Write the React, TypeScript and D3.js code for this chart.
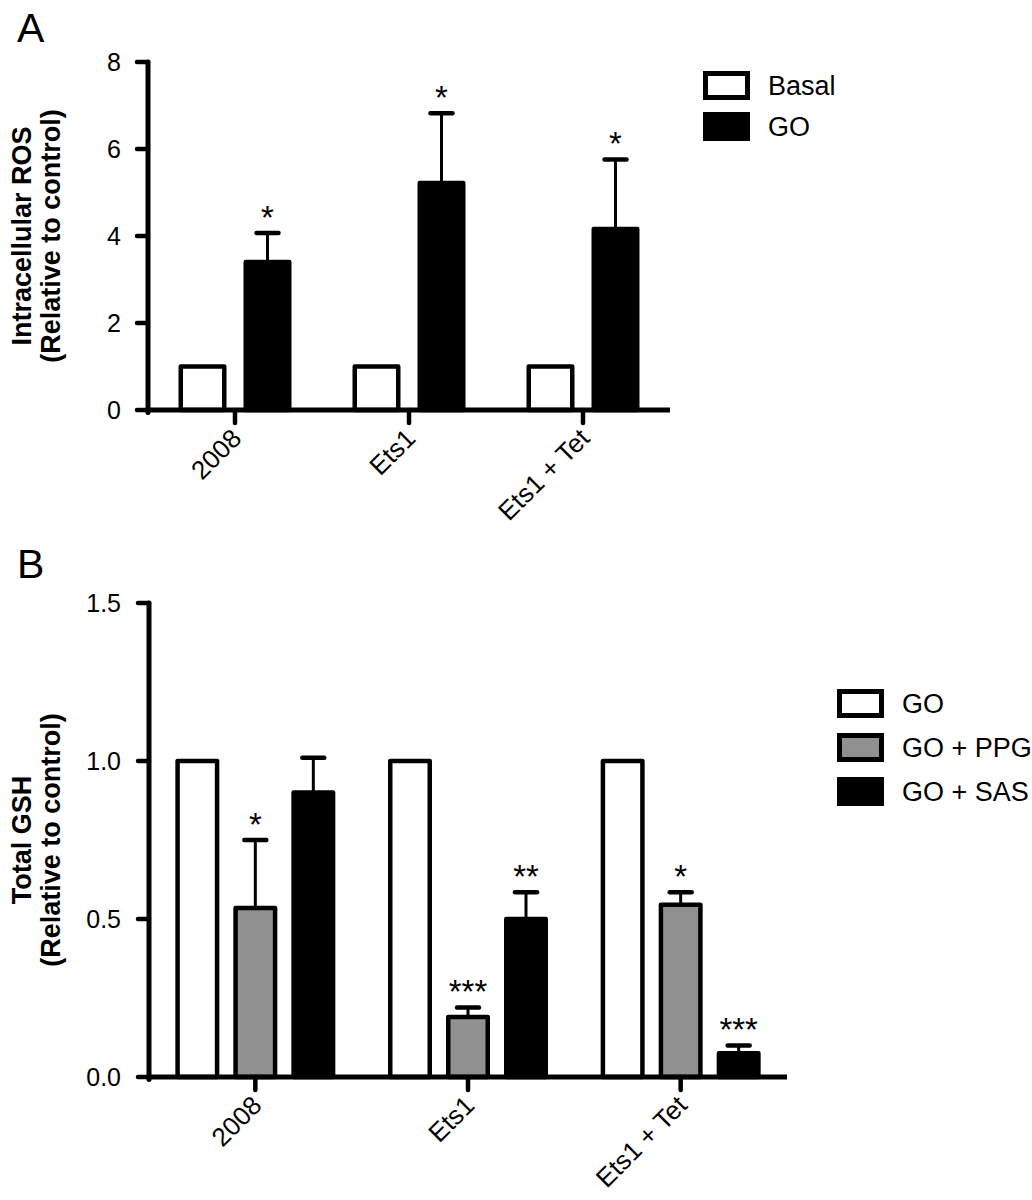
import React from "react";
import * as d3 from "d3";

// ---------- Data ----------
const categories = ["2008", "Ets1", "Ets1 + Tet"];

// Panel A
const seriesA = ["Basal", "GO"];
const basalA = [1, 1, 1];
const goA = [3.4, 5.22, 4.16];
const goErrA = [0.67, 1.6, 1.6];
const starsA = ["*", "*", "*"];
const yTicksA = [0, 2, 4, 6, 8];

// Panel B
const seriesB = ["GO", "GO + PPG", "GO + SAS"];
const goB = [1, 1, 1];
const ppgB = [0.535, 0.19, 0.545];
const ppgErrB = [0.215, 0.03, 0.04];
const ppgStarsB = ["*", "***", "*"];
const sasB = [0.9, 0.5, 0.075];
const sasErrB = [0.11, 0.085, 0.025];
const sasStarsB = ["", "**", "***"];
const yTicksB = [0, 0.5, 1.0, 1.5];

const FONT = "'Liberation Sans', Arial, Helvetica, sans-serif";
const GRAY = "#909090";

type Bar = { cat: string; series: string; value: number; err?: number; star?: string; fill: string };

function Panel(props: {
  label: string;
  labelY: number;
  xRange: [number, number];
  yRange: [number, number];
  yDomain: [number, number];
  yTicks: number[];
  tickFmt: (v: number) => string;
  series: string[];
  innerHalf: number;
  barW: number;
  bars: Bar[];
  title: string[];
  titleCenter: number;
  legend: { name: string; fill: string }[];
  legendX: number;
  legendY: number;
  legendStep: number;
}) {
  const x = d3.scaleBand<string>().domain(categories).range(props.xRange).padding(0);
  const inner = d3.scalePoint<string>().domain(props.series).range([-props.innerHalf, props.innerHalf]);
  const y = d3.scaleLinear().domain(props.yDomain).range(props.yRange);
  const y0 = y(0);
  const sw = 4.5;
  const axisX = props.xRange[0];
  const cx = (c: string) => (x(c) as number) + x.bandwidth() / 2;

  return (
    <g>
      <text x={17} y={props.labelY} fontSize={41} fontFamily={FONT}>{props.label}</text>
      {/* axis title */}
      <g transform={`translate(0, ${props.titleCenter}) rotate(-90)`}>
        {props.title.map((t, i) => (
          <text key={i} x={0} y={31 + i * 29} textAnchor="middle" fontSize={27} fontWeight="bold" fontFamily={FONT}>{t}</text>
        ))}
      </g>
      {/* bars */}
      {props.bars.map((b, i) => {
        const bx = cx(b.cat) + (inner(b.series) as number);
        const top = y(b.value);
        const errTop = b.err != null ? y(b.value + b.err) : top;
        return (
          <g key={i}>
            {b.err != null && (
              <g stroke="#000">
                <line x1={bx} x2={bx} y1={top} y2={errTop} strokeWidth={3} />
                <line x1={bx - 11} x2={bx + 11} y1={errTop} y2={errTop} strokeWidth={4.5} strokeLinecap="round" />
              </g>
            )}
            <rect x={bx - props.barW / 2} y={top} width={props.barW} height={y0 - top}
              fill={b.fill} stroke="#000" strokeWidth={sw} strokeLinejoin="round" />
            {b.star && (
              <text x={bx} y={errTop - 4} textAnchor="middle" fontSize={33} fontFamily={FONT}>{b.star}</text>
            )}
          </g>
        );
      })}
      {/* y axis */}
      <line x1={axisX} x2={axisX} y1={props.yRange[1]} y2={y0 + 2.5} stroke="#000" strokeWidth={5} strokeLinecap="round" />
      {props.yTicks.map((t) => (
        <g key={t}>
          <line x1={axisX - 11} x2={axisX} y1={y(t)} y2={y(t)} stroke="#000" strokeWidth={4.5} strokeLinecap="round" />
          <text x={121} y={y(t)} dy="0.36em" textAnchor="end" fontSize={25} fontFamily={FONT}>{props.tickFmt(t)}</text>
        </g>
      ))}
      {/* x axis */}
      <line x1={axisX} x2={props.xRange[1]} y1={y0} y2={y0} stroke="#000" strokeWidth={5} />
      {categories.map((c) => (
        <g key={c}>
          <line x1={cx(c)} x2={cx(c)} y1={y0} y2={y0 + 13} stroke="#000" strokeWidth={4.5} strokeLinecap="round" />
          <text transform={`translate(${cx(c) + 8}, ${y0 + 30}) rotate(-45)`} textAnchor="end" fontSize={26} fontFamily={FONT}>{c}</text>
        </g>
      ))}
      {/* legend */}
      {props.legend.map((l, i) => (
        <g key={l.name} transform={`translate(${props.legendX}, ${props.legendY + i * props.legendStep})`}>
          <rect x={2.5} y={2.5} width={42} height={24} fill={l.fill} stroke="#000" strokeWidth={5} />
          <text x={65} y={14} dy="0.36em" fontSize={27} fontFamily={FONT}>{l.name}</text>
        </g>
      ))}
    </g>
  );
}

export default function App() {
  const barsA: Bar[] = [];
  categories.forEach((c, i) => {
    barsA.push({ cat: c, series: "Basal", value: basalA[i], fill: "#fff" });
    barsA.push({ cat: c, series: "GO", value: goA[i], err: goErrA[i], star: starsA[i], fill: "#000" });
  });
  const barsB: Bar[] = [];
  categories.forEach((c, i) => {
    barsB.push({ cat: c, series: "GO", value: goB[i], fill: "#fff" });
    barsB.push({ cat: c, series: "GO + PPG", value: ppgB[i], err: ppgErrB[i], star: ppgStarsB[i], fill: GRAY });
    barsB.push({ cat: c, series: "GO + SAS", value: sasB[i], err: sasErrB[i], star: sasStarsB[i], fill: "#000" });
  });

  return (
    <svg width={1032} height={1200} style={{ position: "absolute", left: 0, top: 0, background: "#fff" }}>
      <rect width={1032} height={1200} fill="#fff" />
      <Panel
        label="A" labelY={42}
        xRange={[148, 670]} yRange={[410, 62]} yDomain={[0, 8]}
        yTicks={yTicksA} tickFmt={(v) => String(v)}
        series={seriesA} innerHalf={32.5} barW={43.5}
        bars={barsA}
        title={["Intracellular ROS", "(Relative to control)"]} titleCenter={236}
        legend={[{ name: "Basal", fill: "#fff" }, { name: "GO", fill: "#000" }]}
        legendX={703} legendY={71} legendStep={41}
      />
      <Panel
        label="B" labelY={578}
        xRange={[149, 787]} yRange={[1077, 603]} yDomain={[0, 1.5]}
        yTicks={yTicksB} tickFmt={(v) => v.toFixed(1)}
        series={seriesB} innerHalf={58} barW={39.5}
        bars={barsB}
        title={["Total GSH", "(Relative to control)"]} titleCenter={840}
        legend={[{ name: "GO", fill: "#fff" }, { name: "GO + PPG", fill: GRAY }, { name: "GO + SAS", fill: "#000" }]}
        legendX={837} legendY={689} legendStep={44}
      />
    </svg>
  );
}
